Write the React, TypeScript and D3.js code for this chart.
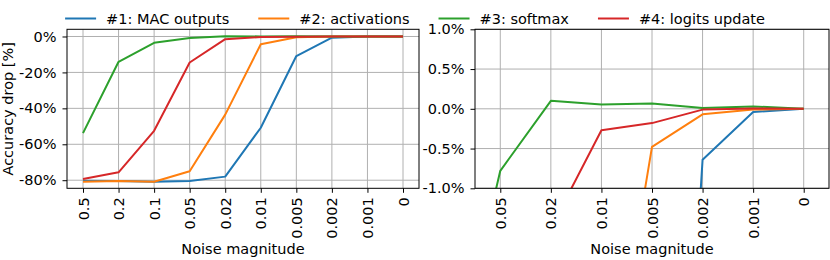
import * as d3 from 'd3';
import * as React from 'react';

const noiseLabels = ['0.5', '0.2', '0.1', '0.05', '0.02', '0.01', '0.005', '0.002', '0.001', '0'];
const macOutputs = [-80.3, -80.5, -80.8, -80.4, -78.0, -50.8, -10.9, -0.64, -0.04, 0];
const activations = [-80.8, -80.5, -80.9, -75.0, -43.5, -4.3, -0.48, -0.07, -0.01, 0];
const softmax = [-53.8, -14.1, -3.5, -0.78, 0.1, 0.055, 0.067, 0.01, 0.03, 0];
const logitsUpdate = [-79.3, -75.6, -52.5, -14.5, -1.5, -0.27, -0.18, -0.01, 0.005, 0];

const seriesNames = ['#1: MAC outputs', '#2: activations', '#3: softmax', '#4: logits update'];
const seriesValues = [macOutputs, activations, softmax, logitsUpdate];
const colors = ['#1f77b4', '#ff7f0e', '#2ca02c', '#d62728'];

const leftTicks = [0, -20, -40, -60, -80];
const rightTicks = [1, 0.5, 0, -0.5, -1];

const W = 830;
const H = 260;
const FONT = 'DejaVu Sans, sans-serif';
const FS = 14.5;

interface IPanel {
  id: string;
  left: number;
  right: number;
  xDomain: [number, number];
  yDomain: [number, number];
  yTicks: number[];
  yFormat: (v: number) => string;
}

const top = 29.3;
const bottom = 188.3;

const panels: IPanel[] = [
  {
    id: 'a',
    left: 67,
    right: 419,
    xDomain: [-0.45, 9.45],
    yDomain: [-84.5, 4],
    yTicks: leftTicks,
    yFormat: (v) => `${v}%`,
  },
  {
    id: 'b',
    left: 475,
    right: 829,
    xDomain: [2.5, 9.5],
    yDomain: [-1, 1],
    yTicks: rightTicks,
    yFormat: (v) => `${v.toFixed(1)}%`,
  },
];

export default function App() {
  const ref = React.useRef<SVGSVGElement>(null);

  React.useEffect(() => {
    const svg = d3.select(ref.current);
    svg.selectAll('*').remove();

    panels.forEach((p) => {
      const x = d3.scaleLinear().domain(p.xDomain).range([p.left, p.right]);
      const y = d3.scaleLinear().domain(p.yDomain).range([bottom, top]);
      const xTicks = d3.range(10).filter((i) => i >= p.xDomain[0] && i <= p.xDomain[1]);

      svg.append('clipPath').attr('id', `clip-${p.id}`)
        .append('rect')
        .attr('x', p.left).attr('y', top)
        .attr('width', p.right - p.left).attr('height', bottom - top);

      // grid
      const grid = svg.append('g').attr('stroke', '#b0b0b0').attr('stroke-width', 1);
      grid.selectAll('.gx').data(xTicks).join('line')
        .attr('x1', (d) => x(d)).attr('x2', (d) => x(d))
        .attr('y1', top).attr('y2', bottom);
      grid.selectAll('.gy').data(p.yTicks).join('line')
        .attr('x1', p.left).attr('x2', p.right)
        .attr('y1', (d) => y(d)).attr('y2', (d) => y(d));

      // lines
      const line = d3.line<number>().x((d, i) => x(i)).y((d) => y(d));
      svg.append('g').attr('clip-path', `url(#clip-${p.id})`)
        .selectAll('path').data(seriesValues).join('path')
        .attr('d', (d) => line(d))
        .attr('fill', 'none')
        .attr('stroke', (d, i) => colors[i])
        .attr('stroke-width', 2)
        .attr('stroke-linejoin', 'round');

      // spines
      svg.append('rect')
        .attr('x', p.left).attr('y', top)
        .attr('width', p.right - p.left).attr('height', bottom - top)
        .attr('fill', 'none').attr('stroke', '#000').attr('stroke-width', 1);

      // x axis
      const xAxis = d3.axisBottom(x).tickValues(xTicks).tickSize(4.5)
        .tickFormat((d) => noiseLabels[d as number]);
      const gx = svg.append('g').attr('transform', `translate(0,${bottom})`).call(xAxis);
      gx.select('.domain').remove();
      gx.selectAll('text')
        .attr('font-family', FONT).attr('font-size', FS).attr('fill', '#000')
        .attr('transform', 'rotate(-90)')
        .attr('x', -9).attr('y', 0).attr('dy', '0.35em')
        .attr('text-anchor', 'end');

      // y axis
      const yAxis = d3.axisLeft(y).tickValues(p.yTicks).tickSize(4.5).tickPadding(6)
        .tickFormat((d) => p.yFormat(d as number));
      const gy = svg.append('g').attr('transform', `translate(${p.left},0)`).call(yAxis);
      gy.select('.domain').remove();
      gy.selectAll('text').attr('font-family', FONT).attr('font-size', FS).attr('fill', '#000');

      svg.append('text')
        .attr('x', (p.left + p.right) / 2).attr('y', 254)
        .attr('text-anchor', 'middle')
        .attr('font-family', FONT).attr('font-size', FS)
        .text('Noise magnitude');
    });

    svg.append('text')
      .attr('transform', `translate(13,${(top + bottom) / 2}) rotate(-90)`)
      .attr('text-anchor', 'middle')
      .attr('font-family', FONT).attr('font-size', FS)
      .text('Accuracy drop [%]');

    // legend, centred over the figure
    const legend = svg.append('g');
    const items = legend.selectAll('g').data(seriesNames).join('g');
    items.append('line')
      .attr('x1', 0).attr('x2', 31).attr('y1', 0).attr('y2', 0)
      .attr('stroke', (d, i) => colors[i]).attr('stroke-width', 2);
    items.append('text')
      .attr('x', 41).attr('y', 0).attr('dy', '0.35em')
      .attr('font-family', FONT).attr('font-size', FS)
      .text((d) => d);
    let cursor = 0;
    items.each(function () {
      const g = d3.select(this);
      const w = (g.select('text').node() as SVGTextElement).getComputedTextLength();
      g.attr('transform', `translate(${cursor},0)`);
      cursor += 41 + w + 29;
    });
    const total = cursor - 29;
    legend.attr('transform', `translate(${W / 2 - total / 2},18.5)`);
  }, []);

  return (
    <div style={{ position: 'absolute', left: 0, top: 0 }}>
      <svg ref={ref} width={W} height={H} style={{ display: 'block', background: '#fff' }} />
    </div>
  );
}
